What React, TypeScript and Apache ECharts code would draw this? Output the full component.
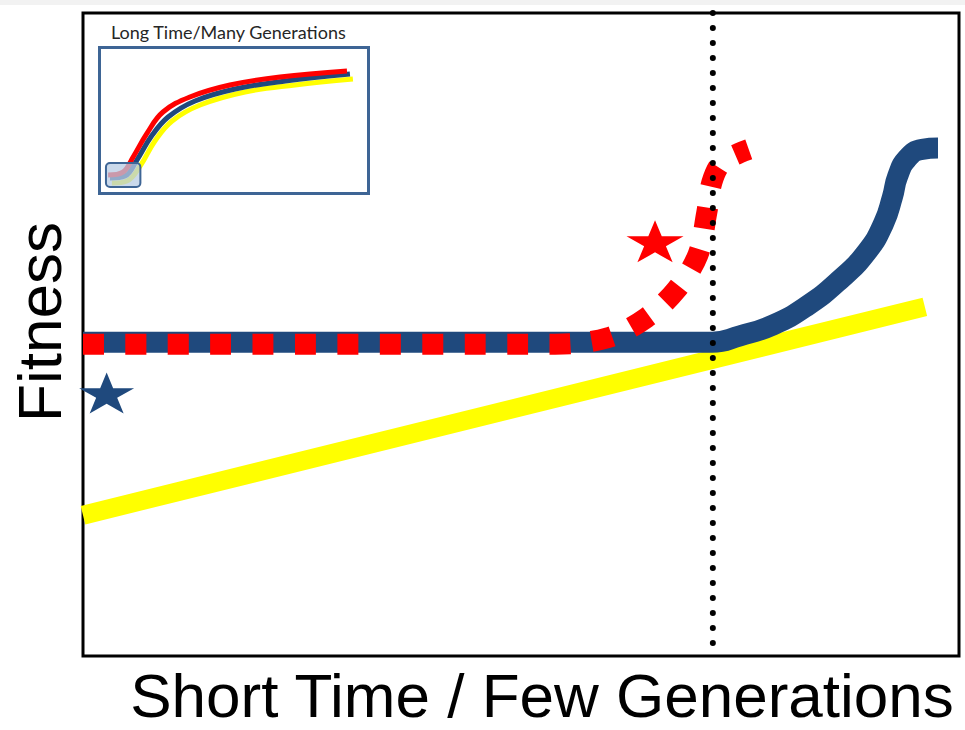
import React, { useEffect, useRef } from "react";
import * as echarts from "echarts";

// ---- Main chart data (x: time 0-100, y: fitness 0-100) ----
const yellowLine: number[][] = [
  [0, 21.9],
  [96.1, 54.3],
];
const blueLine: number[][] = [
  [0, 48.8],
  [71.8, 48.8],
  [75.0, 49.8],
  [78.8, 51.5],
  [82.6, 54.4],
  [86.4, 58.5],
  [89.5, 62.9],
  [91.4, 67.3],
  [92.4, 71.4],
  [93.0, 74.6],
  [94.1, 77.4],
  [95.8, 78.8],
  [97.6, 79.0],
];
const redLine: number[][] = [
  [0, 48.5],
  [53.9, 48.5],
  [59.9, 49.5],
  [64.3, 52.6],
  [67.7, 56.9],
  [70.2, 62.4],
  [71.2, 68.9],
  [71.8, 73.7],
  [72.9, 76.7],
  [74.9, 78.2],
  [76.0, 78.8],
];
const markerTime: number[][] = [
  [71.9, 100],
  [71.9, 1.9],
];
const redStar: number[][] = [[65.3, 64.5]];
const blueStar: number[][] = [[2.7, 40.9]];

// ---- Inset data ----
const insetRed: number[][] = [
  [3.2, 12.7],
  [8.7, 14.7],
  [12.5, 25.0],
  [17.7, 41.4],
  [23.6, 55.8],
  [33.6, 66.1],
  [48.5, 74.3],
  [67.1, 79.8],
  [92.0, 83.9],
];
const insetBlue: number[][] = [
  [3.9, 10.6],
  [9.5, 12.0],
  [13.9, 22.9],
  [19.1, 38.7],
  [25.5, 52.4],
  [35.5, 63.4],
  [50.4, 71.6],
  [69.1, 77.1],
  [93.1, 81.8],
];
const insetYellow: number[][] = [
  [4.6, 7.2],
  [10.2, 8.6],
  [15.1, 18.8],
  [20.6, 36.0],
  [27.0, 49.7],
  [37.4, 60.6],
  [54.1, 69.5],
  [72.7, 74.3],
  [94.2, 78.4],
];
const insetHighlight: number[][] = [[2.4, 20.9, 15.2, 4.5]];

const xTitle = "Short Time / Few Generations";
const yTitle = "Fitness";
const insetTitle = "Long Time/Many Generations";

const STAR =
  "path://M50 0 L61.23 34.55 L97.55 34.55 L68.16 55.9 L79.39 90.45 L50 69.1 L20.61 90.45 L31.84 55.9 L2.45 34.55 L38.77 34.55 Z";

const BLUE = "#1f497d";
const RED = "#ff0000";
const YELLOW = "#ffff00";
const INSET_BORDER = "#3e6595";

export default function App() {
  const ref = useRef<HTMLDivElement>(null);

  useEffect(() => {
    if (!ref.current) return;
    const chart = echarts.init(ref.current, undefined, { renderer: "svg" });
    const hiddenAxis = {
      type: "value" as const,
      min: 0,
      max: 100,
      show: false,
      splitLine: { show: false },
    };
    chart.setOption({
      animation: false,
      backgroundColor: "#ffffff",
      grid: [
        {
          left: 83,
          top: 13,
          width: 876,
          height: 643,
          show: true,
          borderColor: "#000000",
          borderWidth: 3,
          backgroundColor: "transparent",
        },
        {
          left: 99.5,
          top: 47.5,
          width: 269,
          height: 146,
          show: true,
          borderColor: INSET_BORDER,
          borderWidth: 3,
          backgroundColor: "#ffffff",
        },
      ],
      xAxis: [
        { ...hiddenAxis, gridIndex: 0 },
        { ...hiddenAxis, gridIndex: 1 },
      ],
      yAxis: [
        { ...hiddenAxis, gridIndex: 0 },
        { ...hiddenAxis, gridIndex: 1 },
      ],
      graphic: [
        {
          type: "rect",
          left: 0,
          top: 0,
          shape: { width: 965, height: 5 },
          style: { fill: "#f2f2f2" },
          silent: true,
        },
        {
          type: "text",
          x: 39,
          y: 322,
          rotation: Math.PI / 2,
          style: {
            text: yTitle,
            font: '62px "Liberation Sans", Arial, sans-serif',
            fill: "#000",
            align: "center",
            verticalAlign: "middle",
          },
        },
        {
          type: "text",
          x: 542,
          y: 695,
          style: {
            text: xTitle,
            font: '62px "Liberation Sans", Arial, sans-serif',
            fill: "#000",
            align: "center",
            verticalAlign: "middle",
          },
        },
        {
          type: "text",
          x: 111,
          y: 32,
          style: {
            text: insetTitle,
            font: '18px Lato, "Open Sans", sans-serif',
            fill: "#262626",
            align: "left",
            verticalAlign: "middle",
          },
        },
      ],
      series: [
        {
          type: "line",
          xAxisIndex: 0,
          yAxisIndex: 0,
          data: yellowLine,
          showSymbol: false,
          lineStyle: { color: YELLOW, width: 19, cap: "butt" },
          z: 2,
        },
        {
          type: "line",
          xAxisIndex: 0,
          yAxisIndex: 0,
          data: blueLine,
          smooth: 0.5,
          showSymbol: false,
          lineStyle: { color: BLUE, width: 21, cap: "butt", join: "round" },
          z: 3,
        },
        {
          type: "line",
          xAxisIndex: 0,
          yAxisIndex: 0,
          data: redLine,
          smooth: 0.35,
          showSymbol: false,
          lineStyle: { color: RED, width: 21, cap: "butt", type: [21, 21.4] },
          z: 4,
        },
        {
          type: "line",
          xAxisIndex: 0,
          yAxisIndex: 0,
          data: markerTime,
          showSymbol: false,
          lineStyle: { color: "#000000", width: 6, cap: "round", type: [0.1, 14.9] },
          z: 5,
        },
        {
          type: "scatter",
          xAxisIndex: 0,
          yAxisIndex: 0,
          data: redStar,
          symbol: STAR,
          symbolSize: [57, 42],
          itemStyle: { color: RED, opacity: 1 },
          z: 6,
        },
        {
          type: "scatter",
          xAxisIndex: 0,
          yAxisIndex: 0,
          data: blueStar,
          symbol: STAR,
          symbolSize: [55, 41],
          itemStyle: { color: BLUE, opacity: 1 },
          z: 1,
        },
        {
          type: "line",
          xAxisIndex: 1,
          yAxisIndex: 1,
          data: insetYellow,
          smooth: 0.4,
          showSymbol: false,
          lineStyle: { color: YELLOW, width: 5 },
          z: 7,
        },
        {
          type: "line",
          xAxisIndex: 1,
          yAxisIndex: 1,
          data: insetBlue,
          smooth: 0.4,
          showSymbol: false,
          lineStyle: { color: BLUE, width: 5 },
          z: 8,
        },
        {
          type: "line",
          xAxisIndex: 1,
          yAxisIndex: 1,
          data: insetRed,
          smooth: 0.4,
          showSymbol: false,
          lineStyle: { color: RED, width: 5 },
          z: 9,
        },
        {
          type: "custom",
          xAxisIndex: 1,
          yAxisIndex: 1,
          data: insetHighlight,
          z: 10,
          renderItem: (params: any, api: any) => {
            const p1 = api.coord([api.value(0), api.value(1)]);
            const p2 = api.coord([api.value(2), api.value(3)]);
            return {
              type: "rect",
              shape: {
                x: p1[0],
                y: p1[1],
                width: p2[0] - p1[0],
                height: p2[1] - p1[1],
                r: 4,
              },
              style: {
                fill: "rgba(184,204,228,0.75)",
                stroke: INSET_BORDER,
                lineWidth: 2,
              },
            };
          },
        },
      ],
    });
    return () => chart.dispose();
  }, []);

  return (
    <div
      ref={ref}
      style={{ position: "absolute", left: 0, top: 0, width: 965, height: 730 }}
    />
  );
}
